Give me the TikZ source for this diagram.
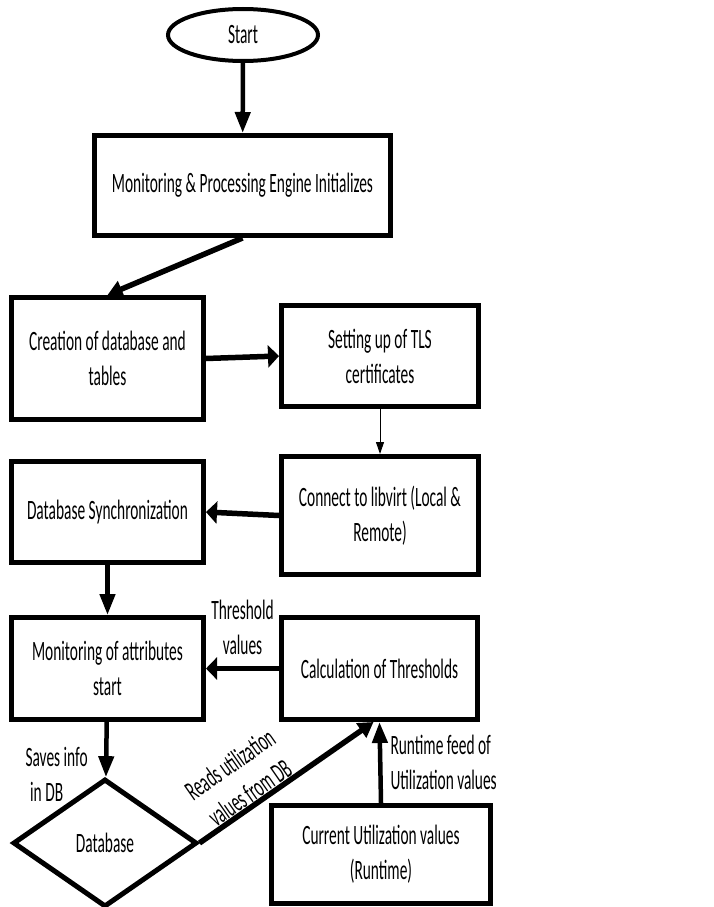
\documentclass[tikz,border=0pt]{standalone}
\usepackage{fontspec}
\setmainfont{Carlito}[FakeStretch=0.55]
\usepackage{tikz}
\usetikzlibrary{arrows.meta,shapes.geometric}
\tikzset{
  txt/.style={font=\fontsize{28}{35}\selectfont},
  stepbox/.style={txt, draw=black, line width=5pt, align=center, inner sep=2pt},
  startnode/.style={txt, draw=black, ellipse, line width=4pt, inner sep=0pt},
  dbnode/.style={txt, draw=black, diamond, aspect=1.4, line width=5pt, inner sep=0pt},
  flowv/.style={draw=black, line width=4.5pt, -{Triangle[length=21pt,width=15pt]}},
  flowh/.style={draw=black, line width=5.5pt, -{Triangle[length=11pt,width=22pt]}},
  flowd/.style={draw=black, line width=5.5pt, -{Triangle[length=15pt,width=17pt]}},
  thin/.style={draw=black, line width=1pt, -{Triangle[length=12pt,width=8pt]}},
  lab/.style={txt, inner sep=2pt},
}
\begin{document}
\begin{tikzpicture}[x=1pt,y=-1pt]
  \useasboundingbox (0,0) rectangle (713,907);

  % nodes
  \node[startnode, minimum width=150, minimum height=52] (start) at (243,35) {Start};
  \node[stepbox, minimum width=296, minimum height=100] (init) at (242.5,185.5)
    {Monitoring \& Processing Engine Initializes};
  \node[stepbox, minimum width=192, minimum height=122] (create) at (107.5,358.5)
    {Creation of database and\\tables};
  \node[stepbox, minimum width=197, minimum height=101] (tls) at (380,356)
    {Setting up of TLS\\certificates};
  \node[stepbox, minimum width=197, minimum height=118] (libvirt) at (380,515.5)
    {Connect to libvirt (Local \&\\Remote)};
  \node[stepbox, minimum width=192, minimum height=101] (sync) at (107.5,512)
    {Database Synchronization};
  \node[stepbox, minimum width=192, minimum height=102] (monitor) at (107.5,668.5)
    {Monitoring of attributes\\start};
  \node[stepbox, minimum width=196, minimum height=102] (thresh) at (379.5,668.5)
    {Calculation of Thresholds};
  \node[dbnode, minimum width=184, minimum height=128] (db) at (105,843) {Database};
  \node[stepbox, minimum width=219, minimum height=98] (current) at (381,854.5)
    {Current Utilization values\\(Runtime)};

  % connectors
  \draw[flowv] (start) -- (init);
  \draw[flowd] (init.south) -- (create.north);
  \draw[flowh] (create.east) -- (tls.west);
  \draw[thin] (tls) -- (libvirt);
  \draw[flowh] (libvirt.west) -- (sync.east);
  \draw[flowv] (sync) -- (monitor);
  \draw[flowh] (thresh) -- node[lab, above=9pt, align=center] {Threshold\\values} (monitor);
  \draw[flowv] (monitor) -- node[lab, pos=0.95, left=14pt, align=left] {Saves info\\\,in DB} (db);
  \draw[flowd] (db.east) -- node[lab, pos=0.33, sloped, above, align=center, inner sep=0pt]
    {Reads utilization\\values from DB} ([xshift=-6]thresh.south);
  \draw[flowv] (current.north) -- node[lab, right=6pt, align=left] {Runtime feed of\\Utilization values} (thresh.south);
\end{tikzpicture}
\end{document}
